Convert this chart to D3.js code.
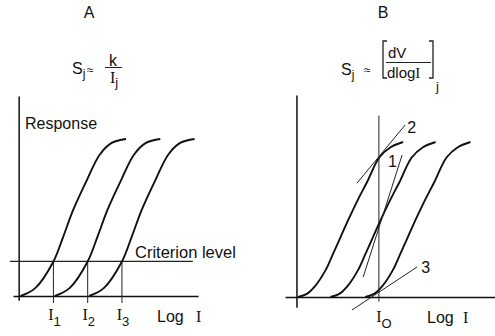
<!DOCTYPE html>
<html>
<head>
<meta charset="utf-8">
<script src="https://cdn.jsdelivr.net/npm/d3@7"></script>
<style>
  body { margin: 0; background: #fff; }
  svg { display: block; font-family: "Liberation Sans", Arial, sans-serif; fill: #111; }
  .curve { fill: none; stroke: #111; stroke-width: 1.9; }
  .axis path.domain, .axis line { stroke: #111; stroke-width: 1.4; }
  .thin { stroke: #222; stroke-width: 1; fill: none; }
  .serif { font-family: "Liberation Serif", "DejaVu Serif", serif; }
</style>
</head>
<body>
<div id="chart"></div>
<script>
// curve shape: log I above the foot of the curve -> response (0..1)
const shapeA_logI = [0, 0.43, 0.96, 1.25, 1.54, 1.94, 2.31, 2.66, 3.08];
const shapeA_resp = [0, 0.05, 0.22, 0.38, 0.55, 0.74, 0.90, 0.975, 1.0];
const shapeB_logI = [0, 0.26, 0.5, 0.8, 1.03, 1.5, 1.76, 2.02, 2.38, 2.70, 3.08];
const shapeB_resp = [0, 0.02, 0.07, 0.17, 0.28, 0.51, 0.63, 0.74, 0.90, 0.965, 1.0];

// log I at the foot of each of the three curves
const feetA = [0.04, 1.04, 2.04];
const feetB = [0.03, 0.98, 2.0];

// panel A: criterion response and the intensities where the curves reach it
const criterion = 0.22;
const thresholdsA = [1, 2, 3];
const thresholdSubs = ["1", "2", "3"];

// panel B: test intensity I0 and the hand-drawn tangents at it
const I0 = 2.40;
const tangentLabels = ["2", "1", "3"];
const tangentFrom = [[1.76, 0.735], [1.94, 0.129], [1.61, -0.084]];
const tangentTo = [[3.17, 1.11], [3.08, 0.916], [3.52, 0.194]];

const W = 495, H = 336;
const svg = d3.select("#chart").append("svg")
  .attr("width", W).attr("height", H);

const xA = d3.scaleLinear().domain([-0.18, 5.22]).range([13, 198]);
const yA = d3.scaleLinear().domain([0, 1]).range([296, 139]);
const xB = d3.scaleLinear().domain([-0.35, 5.8]).range([285, 495]);
const yB = d3.scaleLinear().domain([0, 1]).range([297, 142]);

function curvePoints(foot, sx, sy) {
  return sx.map((v, i) => [foot + v, sy[i]]);
}

function drawCurves(g, feet, sx, sy, x, y) {
  const line = d3.line()
    .x(d => x(d[0]))
    .y(d => y(d[1]))
    .curve(d3.curveCatmullRom.alpha(0.5));
  g.selectAll(".curve")
    .data(feet)
    .enter().append("path")
    .attr("class", "curve")
    .attr("d", f => line(curvePoints(f, sx, sy)));
}

function iLabel(g, px, py, sub, size) {
  const t = g.append("text")
    .attr("x", px).attr("y", py)
    .attr("text-anchor", "middle")
    .style("font-size", size + "px");
  t.append("tspan").attr("class", "serif").text("I");
  t.append("tspan").attr("dy", 6).style("font-size", (size - 3) + "px").text(sub);
  return t;
}

// ---------------- panel A ----------------
const gA = svg.append("g");

gA.append("g")
  .attr("class", "axis")
  .attr("transform", `translate(0,${yA(0)})`)
  .call(d3.axisBottom(xA).tickValues([]).tickSizeOuter(0));

gA.append("line")
  .attr("x1", xA(0)).attr("x2", xA(0))
  .attr("y1", yA(1.27)).attr("y2", yA(-0.03))
  .style("stroke", "#111").style("stroke-width", 1.5);

// criterion level
gA.append("line")
  .attr("class", "thin")
  .attr("x1", xA(-0.27)).attr("x2", xA(5.07))
  .attr("y1", yA(criterion)).attr("y2", yA(criterion))
  .style("stroke-width", 1.2);

gA.selectAll(".drop")
  .data(thresholdsA)
  .enter().append("line")
  .attr("class", "thin drop")
  .attr("x1", d => xA(d)).attr("x2", d => xA(d))
  .attr("y1", yA(criterion)).attr("y2", yA(-0.045));

drawCurves(gA, feetA, shapeA_logI, shapeA_resp, xA, yA);

thresholdsA.forEach((d, i) => iLabel(gA, xA(d) + 1, 320, thresholdSubs[i], 16));

gA.append("text").attr("x", 157).attr("y", 322).style("font-size", "16px").text("Log");
gA.append("text").attr("class", "serif").attr("x", 196).attr("y", 322)
  .style("font-size", "16px").text("I");

gA.append("text").attr("x", 25).attr("y", 129)
  .style("font-size", "16px").text("Response");
gA.append("text").attr("x", 135).attr("y", 258)
  .style("font-size", "16.5px").text("Criterion level");

gA.append("text").attr("x", 89).attr("y", 18).attr("text-anchor", "middle")
  .style("font-size", "16px").text("A");

// S_j ~ k / I_j
const fA = gA.append("text").attr("x", 72).attr("y", 74).style("font-size", "16px");
fA.append("tspan").text("S");
fA.append("tspan").attr("dy", 4).style("font-size", "12px").text("j");
gA.append("text").attr("x", 87).attr("y", 74).style("font-size", "12px").text("≈");
gA.append("text").attr("x", 113).attr("y", 66).attr("text-anchor", "middle")
  .style("font-size", "16px").text("k");
gA.append("line").attr("class", "thin")
  .attr("x1", 105).attr("x2", 122).attr("y1", 67.5).attr("y2", 67.5);
const dA = gA.append("text").attr("x", 110).attr("y", 83).style("font-size", "16px");
dA.append("tspan").attr("class", "serif").text("I");
dA.append("tspan").attr("dy", 4).style("font-size", "13px").text("j");

// ---------------- panel B ----------------
const gB = svg.append("g");

gB.append("g")
  .attr("class", "axis")
  .attr("transform", `translate(0,${yB(0)})`)
  .call(d3.axisBottom(xB).tickValues([]).tickSizeOuter(0));

gB.append("line")
  .attr("x1", xB(0)).attr("x2", xB(0))
  .attr("y1", yB(1.3)).attr("y2", yB(-0.07))
  .style("stroke", "#111").style("stroke-width", 1.5);

gB.append("line")
  .attr("class", "thin")
  .attr("x1", xB(I0)).attr("x2", xB(I0))
  .attr("y1", yB(1.17)).attr("y2", yB(-0.03));

drawCurves(gB, feetB, shapeB_logI, shapeB_resp, xB, yB);

gB.selectAll(".tangent")
  .data(tangentLabels)
  .enter().append("line")
  .attr("class", "thin tangent")
  .attr("x1", (d, i) => xB(tangentFrom[i][0])).attr("y1", (d, i) => yB(tangentFrom[i][1]))
  .attr("x2", (d, i) => xB(tangentTo[i][0])).attr("y2", (d, i) => yB(tangentTo[i][1]));

// label offsets from the upper end of each tangent
const labelDx = [2, -14, 4], labelDy = [8, 12, 6];
gB.selectAll(".tlabel")
  .data(tangentLabels)
  .enter().append("text")
  .attr("class", "tlabel")
  .attr("x", (d, i) => xB(tangentTo[i][0]) + labelDx[i])
  .attr("y", (d, i) => yB(tangentTo[i][1]) + labelDy[i])
  .style("font-size", "16px")
  .text(d => d);

iLabel(gB, xB(I0) + 5, 322, "O", 16);

gB.append("text").attr("x", 427).attr("y", 323).style("font-size", "16px").text("Log");
gB.append("text").attr("class", "serif").attr("x", 463).attr("y", 323)
  .style("font-size", "16px").text("I");

gB.append("text").attr("x", 383).attr("y", 18).attr("text-anchor", "middle")
  .style("font-size", "16px").text("B");

// S_j ~ [dV / dlogI]_j
const fB = gB.append("text").attr("x", 341).attr("y", 75).style("font-size", "16px");
fB.append("tspan").text("S");
fB.append("tspan").attr("dy", 4).style("font-size", "12px").text("j");
gB.append("text").attr("x", 364).attr("y", 74).style("font-size", "12px").text("≈");
gB.append("path").attr("class", "thin")
  .attr("d", "M387,41 H383 V78 H387 M429,41 H433 V78 H429")
  .style("stroke-width", 1.3);
gB.append("text").attr("x", 388).attr("y", 58).style("font-size", "15px").text("dV");
gB.append("line").attr("class", "thin")
  .attr("x1", 386).attr("x2", 431).attr("y1", 62.5).attr("y2", 62.5);
const dB = gB.append("text").attr("x", 387).attr("y", 78).style("font-size", "15px");
dB.append("tspan").text("dlog");
dB.append("tspan").attr("class", "serif").text("I");
gB.append("text").attr("x", 436).attr("y", 91).style("font-size", "13px").text("j");
</script>
</body>
</html>
